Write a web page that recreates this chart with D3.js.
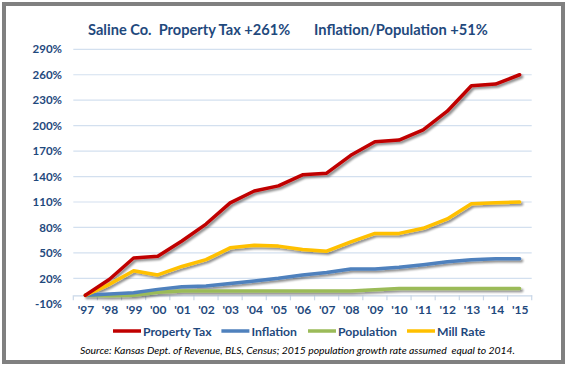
<!DOCTYPE html>
<html><head><meta charset="utf-8">
<script src="https://cdn.jsdelivr.net/npm/d3@7/dist/d3.min.js"></script>
<style>
html,body{margin:0;padding:0;background:#fff;}
svg text{font-family:Lato,"Open Sans",sans-serif;}
</style></head>
<body>
<svg id="chart" width="569" height="368"></svg>
<script>
const years = ["'97","'98","'99","'00","'01","'02","'03","'04","'05","'06","'07","'08","'09","'10","'11","'12","'13","'14","'15"];
const propertyTax = [0,19,44,46,64,84,109,123,129,142,144,165,181,183,195,217,247,249,260];
const inflation   = [0,1.5,3,7,10,11,14,17,20,24,27,31,31,33,36,39.5,42,43,43];
const population  = [0,-0.5,0,3.5,5,5,5,5,5,5,5,5,6.5,8,8,8,8,8,8];
const millRate    = [0,13,29,24,34,42,56,59,58,54,52,63,73,73,79,90,108,109,110];
const yTicks = [-10,20,50,80,110,140,170,200,230,260,290];
const seriesNames = ["Property Tax","Inflation","Population","Mill Rate"];
const colors = ["#C00000","#4F81BD","#9BBB59","#FFC000"];
const titleLeft = "Saline Co.  Property Tax +261%";
const titleRight = "Inflation/Population +51%";
const source = "Source: Kansas Dept. of Revenue, BLS, Census; 2015 population growth rate assumed  equal to 2014.";

const textColor = "#1F497D";
const svg = d3.select("#chart");

// drop shadow filter
const defs = svg.append("defs");
const f = defs.append("filter").attr("id","sh").attr("x","-5%").attr("y","-20%").attr("width","110%").attr("height","140%");
f.append("feGaussianBlur").attr("in","SourceAlpha").attr("stdDeviation",1.2).attr("result","b");
f.append("feOffset").attr("in","b").attr("dx",1.5).attr("dy",2).attr("result","o");
f.append("feComponentTransfer").attr("in","o").attr("result","t")
  .append("feFuncA").attr("type","linear").attr("slope",0.45);
const m = f.append("feMerge");
m.append("feMergeNode").attr("in","t");
m.append("feMergeNode").attr("in","SourceGraphic");

const x = d3.scalePoint().domain(years).range([73.3,531.7]).padding(0.5);
const y = d3.scaleLinear().domain([-10,290]).range([303.8,49.3]);

// gridlines
svg.append("g").selectAll("line").data(yTicks.filter(t=>t>0)).join("line")
  .attr("x1",73.3).attr("x2",531.7)
  .attr("y1",d=>y(d)).attr("y2",d=>y(d))
  .attr("stroke","#D3E0EF").attr("stroke-width",1.2);

// y axis labels
const yAxis = d3.axisLeft(y).tickValues(yTicks).tickFormat(d=>d+"%").tickSize(0).tickPadding(0);
const ya = svg.append("g").attr("transform","translate(62,0)").call(yAxis);
ya.select(".domain").remove();
ya.selectAll("text").attr("fill",textColor).attr("font-weight","bold").attr("font-size",11.5)
  .attr("font-family","Lato,sans-serif");

// x axis at 0
const xAxis = d3.axisBottom(x).tickSize(0).tickPadding(10);
const xa = svg.append("g").attr("transform",`translate(0,${y(0)})`).call(xAxis);
xa.select(".domain").attr("stroke","#C9D7E8").attr("stroke-width",1.2);
xa.selectAll("text").attr("fill",textColor).attr("font-weight","bold").attr("font-size",12)
  .attr("font-family","Lato,sans-serif");
// ticks between categories
const step = x.step();
const bounds = d3.range(years.length+1).map(i=>73.3+i*step);
svg.append("g").selectAll("line").data(bounds).join("line")
  .attr("x1",d=>d).attr("x2",d=>d).attr("y1",y(0)).attr("y2",y(0)+5)
  .attr("stroke","#C9D7E8").attr("stroke-width",1.2);

// lines
const allSeries = [propertyTax,inflation,population,millRate];
const line = d3.line().x((d,i)=>x(years[i])).y(d=>y(d));
const drawOrder = [2,1,3,0];
svg.append("g").attr("filter","url(#sh)").selectAll("path").data(drawOrder).join("path")
  .attr("d",i=>line(allSeries[i]))
  .attr("fill","none").attr("stroke",i=>colors[i]).attr("stroke-width",3.5)
  .attr("stroke-linejoin","round").attr("stroke-linecap","round");

// title
svg.append("text").attr("x",88).attr("y",35).attr("fill",textColor).attr("font-weight","bold")
  .attr("font-size",14.6).attr("xml:space","preserve").text(titleLeft);
svg.append("text").attr("x",314).attr("y",35).attr("fill",textColor).attr("font-weight","bold")
  .attr("font-size",14.7).text(titleRight);

// legend
const legX = [113,221.4,308,407];
const legW = [64,32,55,45];
const lg = svg.append("g");
seriesNames.forEach((n,i)=>{
  lg.append("line").attr("x1",legX[i]).attr("x2",legX[i]+28).attr("y1",331).attr("y2",331)
    .attr("stroke",colors[i]).attr("stroke-width",3.5);
  lg.append("text").attr("x",legX[i]+30).attr("y",335.5).attr("fill",textColor)
    .attr("font-weight","bold").attr("font-size",12.2).text(n);
});

// source
svg.append("text").attr("x",80).attr("y",354).attr("font-style","italic").attr("font-size",10.4)
  .attr("fill","#000").attr("xml:space","preserve").attr("textLength",435)
  .attr("lengthAdjust","spacing").text(source);

// border
svg.append("rect").attr("x",4).attr("y",4).attr("width",559).attr("height",358)
  .attr("fill","none").attr("stroke","#808080").attr("stroke-width",4);
</script>
</body></html>
